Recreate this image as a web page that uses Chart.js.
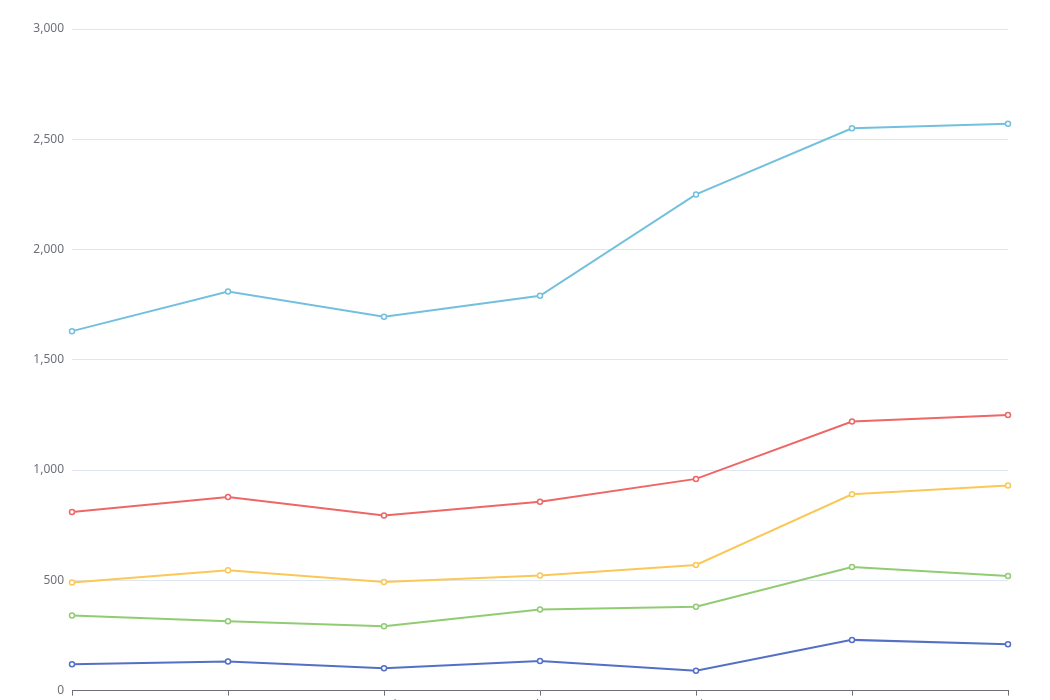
<!DOCTYPE html>
<html>
<head>
<meta charset="utf-8">
<script src="https://cdn.jsdelivr.net/npm/chart.js@4/dist/chart.umd.min.js"></script>
<style>
html,body{margin:0;padding:0;background:#fff;overflow:hidden;}
#wrap{position:absolute;left:0;top:0;width:1050px;height:716px;}
</style>
</head>
<body>
<div id="wrap"><canvas id="c"></canvas></div>
<script>
const categories = ['Mon', 'Tue', 'Wed', 'Thu', 'Fri', 'Sat', 'Sun'];
const email = [120, 132, 101, 134, 90, 230, 210];
const unionAds = [220, 182, 191, 234, 290, 330, 310];
const videoAds = [150, 232, 201, 154, 190, 330, 410];
const direct = [320, 332, 301, 334, 390, 330, 320];
const searchEngine = [820, 932, 901, 934, 1290, 1330, 1320];
const seriesNames = ['Email', 'Union Ads', 'Video Ads', 'Direct', 'Search Engine'];
const seriesData = [email, unionAds, videoAds, direct, searchEngine];
const colors = ['#5470c6', '#91cc75', '#fac858', '#ee6666', '#73c0de'];

const datasets = seriesData.map((d, i) => ({
  label: seriesNames[i],
  data: d,
  borderColor: colors[i],
  backgroundColor: '#fff',
  pointBackgroundColor: '#fff',
  pointBorderColor: colors[i],
  pointBorderWidth: 1.5,
  pointRadius: 2.5,
  borderWidth: 2,
  tension: 0,
  fill: false,
  stack: 'total'
}));

new Chart(document.getElementById('c'), {
  type: 'line',
  data: { labels: categories, datasets },
  options: {
    responsive: true,
    maintainAspectRatio: false,
    animation: false,
    layout: { padding: { left: 0, right: 42, top: 29, bottom: 0 } },
    plugins: { legend: { display: false }, title: { display: false }, tooltip: { enabled: false } },
    scales: {
      x: {
        offset: false,
        border: { display: true, color: '#6e7079', width: 1 },
        grid: { drawOnChartArea: false, drawTicks: true, tickLength: 5, color: '#6e7079' },
        ticks: { color: '#6e7079', font: { family: 'Noto Sans', size: 12 }, padding: 3, maxRotation: 0 }
      },
      y: {
        stacked: true,
        min: 0,
        max: 3000,
        border: { display: false },
        grid: { color: '#e0e6f1', drawTicks: false },
        ticks: { stepSize: 500, color: '#6e7079', font: { family: 'Noto Sans', size: 12 }, padding: 8 },
        afterFit: (s) => { s.width = 72; }
      }
    }
  }
});
</script>
</body>
</html>
